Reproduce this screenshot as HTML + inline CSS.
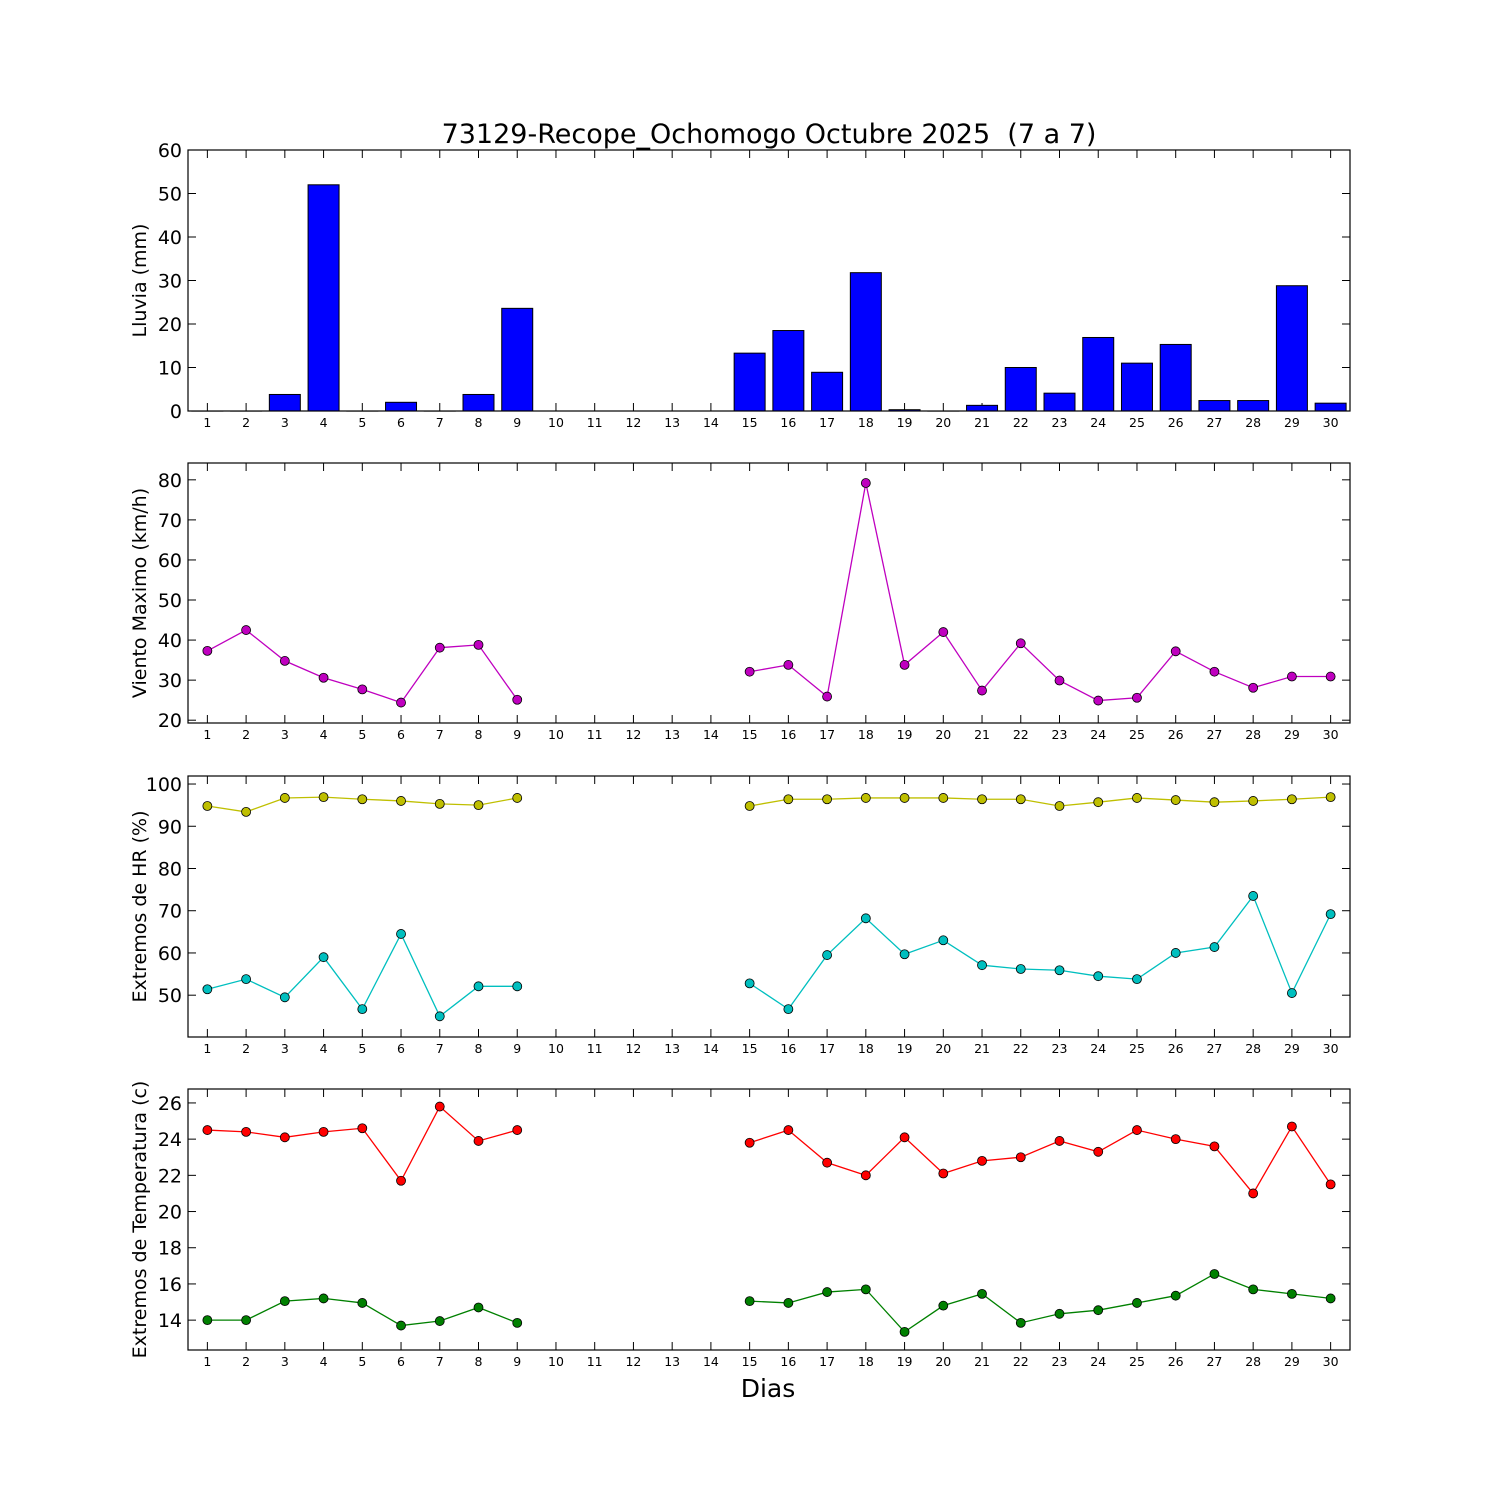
<!DOCTYPE html>
<html><head><meta charset="utf-8"><style>
body{margin:0;background:#fff}
svg{display:block;font-family:"DejaVu Sans","Liberation Sans",sans-serif}
</style></head><body>
<svg id="chart" width="1500" height="1500" viewBox="0 0 1500 1500">
<text x="769" y="143" font-size="27" text-anchor="middle" xml:space="preserve" style="white-space:pre">73129-Recope_Ochomogo Octubre 2025  (7 a 7)</text>
<text x="768" y="1397" font-size="25" text-anchor="middle">Dias</text>
</svg>
<script>
const days=[1,2,3,4,5,6,7,8,9,10,11,12,13,14,15,16,17,18,19,20,21,22,23,24,25,26,27,28,29,30];
const rain=[0,0,3.8,52,0,2,0,3.8,23.6,null,null,null,null,null,13.3,18.5,8.9,31.8,0.3,0,1.3,10,4.1,16.9,11,15.3,2.4,2.4,28.8,1.8];
const wind=[37.3,42.5,34.8,30.6,27.7,24.4,38.1,38.8,25.1,null,null,null,null,null,32.1,33.8,25.9,79.2,33.8,42,27.4,39.2,29.9,24.9,25.6,37.2,32.1,28.1,30.9,30.9];
const hrMax=[94.8,93.4,96.7,96.9,96.4,96,95.3,95,96.7,null,null,null,null,null,94.8,96.4,96.4,96.7,96.7,96.7,96.4,96.4,94.8,95.7,96.7,96.2,95.7,96,96.4,96.9];
const hrMin=[51.4,53.8,49.5,59,46.7,64.5,45,52.1,52.1,null,null,null,null,null,52.8,46.7,59.5,68.2,59.7,63,57.1,56.2,55.9,54.5,53.8,60,61.4,73.5,50.5,69.2];
const tMax=[24.5,24.4,24.1,24.4,24.6,21.7,25.8,23.9,24.5,null,null,null,null,null,23.8,24.5,22.7,22,24.1,22.1,22.8,23,23.9,23.3,24.5,24,23.6,21,24.7,21.5];
const tMin=[14,14,15.05,15.2,14.95,13.7,13.95,14.7,13.85,null,null,null,null,null,15.05,14.95,15.55,15.7,13.35,14.8,15.45,13.85,14.35,14.55,14.95,15.35,16.55,15.7,15.45,15.2];
const rainTicks=[0,10,20,30,40,50,60];
const windTicks=[20,30,40,50,60,70,80];
const hrTicks=[50,60,70,80,90,100];
const tTicks=[14,16,18,20,22,24,26];

const NS="http://www.w3.org/2000/svg";
const svg=document.getElementById('chart');
const L=188,R=1350;
function xs(d){return L+(d-0.5)/30*(R-L);}
function mk(tag,attrs,parent){const e=document.createElementNS(NS,tag);for(const k in attrs)e.setAttribute(k,attrs[k]);(parent||svg).appendChild(e);return e;}

function panel(name,top,bot,ymin,ymax,ticks,label){
  const g=mk('g',{});
  
  
  const ys=v=>bot-(v-ymin)/(ymax-ymin)*(bot-top);
  for(const t of ticks){
    const y=ys(t);
    const a=mk('line',{x1:L,x2:L+8,y1:y,y2:y,stroke:'#000'},g);
    
    mk('line',{x1:R-8,x2:R,y1:y,y2:y,stroke:'#000'},g);
    const tx=mk('text',{x:L-6,y:y+7,'font-size':19,'text-anchor':'end'},g);
    
    tx.textContent=t;
  }
  for(const d of days){
    const x=xs(d);
    mk('line',{x1:x,x2:x,y1:bot,y2:bot-8,stroke:'#000'},g);
    mk('line',{x1:x,x2:x,y1:top,y2:top+8,stroke:'#000'},g);
    const tx=mk('text',{x:x,y:bot+16,'font-size':12.5,'text-anchor':'middle'},g);
    
    tx.textContent=d;
  }
  const yl=mk('text',{x:0,y:0,'font-size':19,'text-anchor':'middle',transform:`translate(146,${(top+bot)/2}) rotate(-90)`},g);
  
  yl.textContent=label;
  return {g,ys,top,bot};
}
function frame(p){mk('rect',{x:L,y:p.top,width:R-L,height:p.bot-p.top,fill:'none',stroke:'#000','stroke-width':1.2},p.g);}
function series(p,vals,color,name){
  let seg=[];const segs=[];
  vals.forEach((v,i)=>{if(v==null){if(seg.length)segs.push(seg);seg=[];}else seg.push([xs(days[i]),p.ys(v)]);});
  if(seg.length)segs.push(seg);
  for(const s of segs){
    const pl=mk('polyline',{points:s.map(q=>q.join(',')).join(' '),fill:'none',stroke:color,'stroke-width':1.3},p.g);
    
  }
  vals.forEach((v,i)=>{if(v==null)return;
    const c=mk('circle',{cx:xs(days[i]),cy:p.ys(v),r:4.5,fill:color,stroke:'#000','stroke-width':0.8},p.g);
    
  });
}

const p1=panel('rain',150,411,0,60,rainTicks,'Lluvia (mm)');
const bw=0.8*(R-L)/30;
rain.forEach((v,i)=>{if(v==null)return;
  const y=p1.ys(v);
  const b=mk('rect',{x:xs(days[i])-bw/2,y:y,width:bw,height:Math.max(p1.bot-y,0.1),fill:'#0000ff',stroke:'#000','stroke-width':1},p1.g);
  
});
frame(p1);
const p2=panel('wind',463,723,19.3,84.2,windTicks,'Viento Maximo (km/h)');
series(p2,wind,'#bf00bf','wind');frame(p2);
const p3=panel('humidity',776,1037,40.1,101.9,hrTicks,'Extremos de HR (%)');
series(p3,hrMax,'#bfbf00','hr-max');series(p3,hrMin,'#00bfbf','hr-min');frame(p3);
const p4=panel('temperature',1089,1350,12.35,26.77,tTicks,'Extremos de Temperatura (c)');
series(p4,tMax,'#ff0000','temp-max');series(p4,tMin,'#008000','temp-min');frame(p4);
</script>
</body></html>
